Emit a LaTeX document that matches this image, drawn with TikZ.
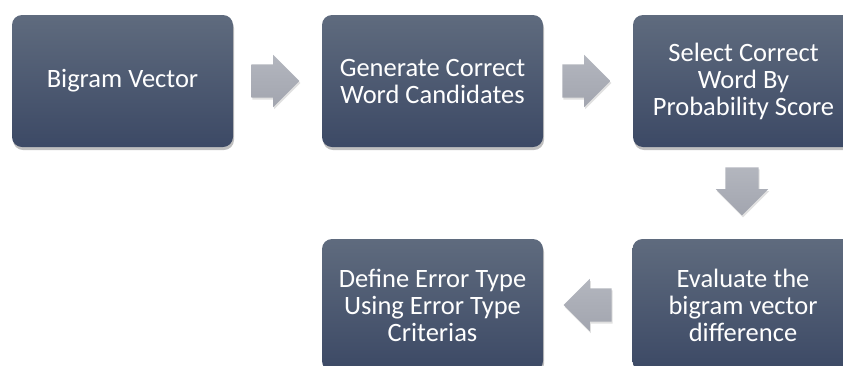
\documentclass[tikz,border=0pt]{standalone}
\usepackage{fontspec}
\setmainfont{Carlito}
\usetikzlibrary{shapes.arrows,shadows,calc}

\definecolor{boxtop}{HTML}{5F6B7E}
\definecolor{boxbot}{HTML}{3C4965}
\definecolor{arrtop}{HTML}{B3B6BE}
\definecolor{arrbot}{HTML}{A2A5AF}

\tikzset{
  stepbox/.style={rectangle,rounded corners=10pt,minimum width=221pt,minimum height=132pt,
    top color=boxtop,bottom color=boxbot,text=white,align=center,
    font=\fontsize{26.5}{27}\selectfont,
    drop shadow={shadow xshift=1pt,shadow yshift=-3pt,fill=black,opacity=0.25}},
  flowarrow/.style={single arrow,single arrow head extend=9.5pt,single arrow head indent=0pt,
    minimum height=48pt,inner xsep=0pt,inner ysep=16.5pt,anchor=tail,
    top color=arrtop,bottom color=arrbot,
    drop shadow={shadow xshift=1pt,shadow yshift=-2pt,fill=black,opacity=0.12}}
}

\begin{document}
\begin{tikzpicture}[x=1pt,y=-1pt]
	\useasboundingbox (0,0) rectangle (843,365);
	\begin{scope}
	\clip (0,0) rectangle (843,365);
	\node[stepbox] (bigram) at (122.5,81) {Bigram Vector};
	\node[stepbox] (generate) at (432.5,81) {Generate Correct\\Word Candidates};
	\node[stepbox] (select) at (743.5,81) {Select Correct\\Word By\\Probability Score};
	\node[stepbox] (evaluate) at (743,305) {Evaluate the\\bigram vector\\difference};
	\node[stepbox] (define) at (432.5,305) {Define Error Type\\Using Error Type\\Criterias};
	\end{scope}
	% block arrows between the steps
	\node[flowarrow] (arrA) at ($(bigram.east)+(18,0)$) {};
	\node[flowarrow] (arrB) at ($(generate.east)+(19,0)$) {};
	\node[flowarrow,rotate=-90] (arrC) at ($(select.south)+(-1.5,20)$) {};
	\node[flowarrow,rotate=180] (arrD) at ($(evaluate.west)+(-20.5,0)$) {};
\end{tikzpicture}
\end{document}
